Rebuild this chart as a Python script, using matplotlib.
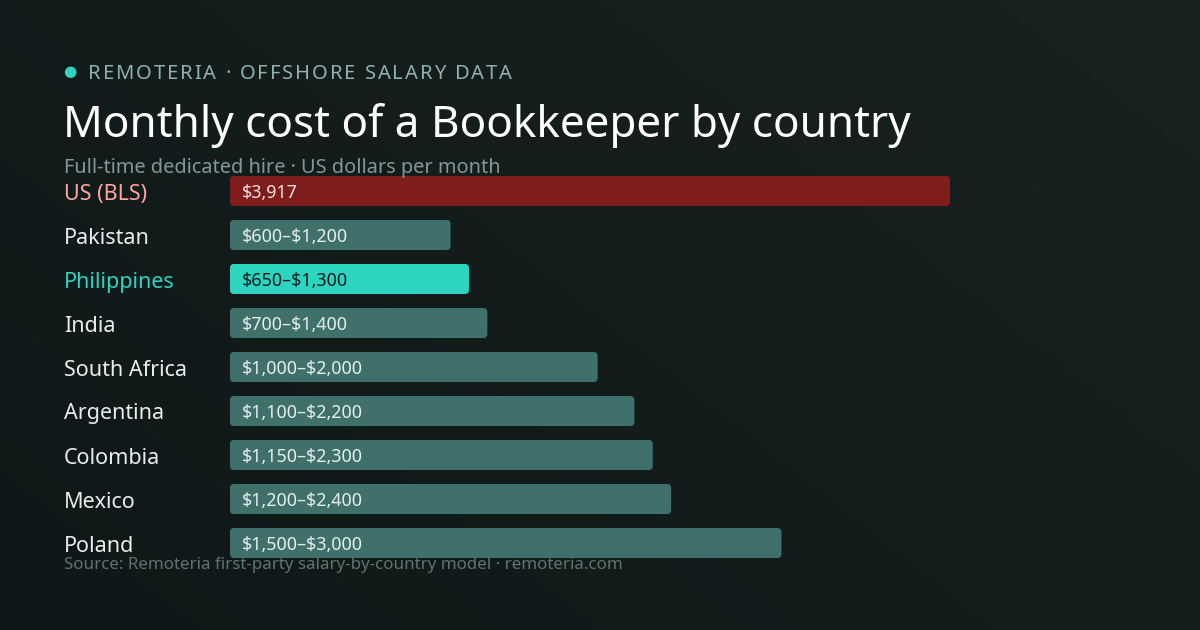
import matplotlib
matplotlib.use("Agg")
import matplotlib.pyplot as plt
import numpy as np
from matplotlib.patches import FancyBboxPatch

countries = ["US (BLS)", "Pakistan", "Philippines", "India", "South Africa",
             "Argentina", "Colombia", "Mexico", "Poland"]
low = [3917, 600, 650, 700, 1000, 1100, 1150, 1200, 1500]
high = [3917, 1200, 1300, 1400, 2000, 2200, 2300, 2400, 3000]
labels = ["$3,917", "$600–$1,200", "$650–$1,300", "$700–$1,400", "$1,000–$2,000",
          "$1,100–$2,200", "$1,150–$2,300", "$1,200–$2,400", "$1,500–$3,000"]

plt.rcParams['font.family'] = ['Noto Sans', 'DejaVu Sans']
plt.rcParams['text.parse_math'] = False
W, H = 1200, 630
fig = plt.figure(figsize=(12, 6.3), dpi=100)

bg = fig.add_axes([0, 0, 1, 1])
yy, xx = np.mgrid[0:1:200j, 0:1:200j]
g = (xx * 0.6 + (1 - yy) * 0.4)
c0 = np.array([0x0e, 0x18, 0x18]) / 255
c1 = np.array([0x1a, 0x22, 0x20]) / 255
img = c0[None, None, :] * (1 - g[..., None]) + c1[None, None, :] * g[..., None]
bg.imshow(img, extent=[0, 1, 0, 1], aspect='auto', origin='upper')
bg.axis('off')

def fy(py):
    return 1 - py / H

renderer = fig.canvas.get_renderer()
fig.text(70 / W, fy(72), "●", color="#2dd4bf", fontsize=11, va='center', ha='center')
xp = 88
for ch in "REMOTERIA · OFFSHORE SALARY DATA":
    t = fig.text(xp / W, fy(74), ch, color="#8fb3ad", fontsize=14.5, va='center', ha='left')
    if ch == " ":
        w = fig.text(0, 0, "a a", fontsize=14.5).get_window_extent(renderer).width - \
            2 * fig.text(0, 0, "a", fontsize=14.5).get_window_extent(renderer).width
        for tt in fig.texts[-2:]:
            tt.remove()
    else:
        w = t.get_window_extent(renderer).width
    xp += w + 1.9

fig.text(63 / W, fy(125), "Monthly cost of a Bookkeeper by country", color="white",
         fontsize=31.7, va='center', ha='left')
fig.text(64 / W, fy(168), "Full-time dedicated hire · US dollars per month", color="#7f9a96",
         fontsize=14.35, va='center', ha='left')
fig.text(64 / W, fy(565), "Source: Remoteria first-party salary-by-country model · remoteria.com",
         color="#5e7470", fontsize=12.2, va='center', ha='left')

x0, x1 = 230, 950
top, bot = 169, 565
ax = fig.add_axes([x0 / W, (H - bot) / H, (x1 - x0) / W, (bot - top) / H])
ax.set_xlim(0, high[0])
ax.set_ylim(len(countries) - 0.5, -0.5)
ax.axis('off')
ax.patch.set_alpha(0)

xpp = high[0] / (x1 - x0)
ypp = len(countries) / (bot - top)
bh = 30 * ypp
for i, (c, h, lab) in enumerate(zip(countries, high, labels)):
    if c == "US (BLS)":
        col, tcol, lcol = "#7f1d1d", "#f3dede", "#fca5a5"
    elif c == "Philippines":
        col, tcol, lcol = "#2dd4bf", "#0f1a1a", "#2dd4bf"
    else:
        col, tcol, lcol = "#3f706b", "#e6efee", "#e6efee"
    p = FancyBboxPatch((0, i - bh / 2), h, bh,
                       boxstyle=f"round,pad=0,rounding_size={4 * xpp}",
                       mutation_aspect=ypp / xpp, facecolor=col, edgecolor='none')
    ax.add_patch(p)
    ax.text(12 * xpp, i + 2 * ypp, lab, color=tcol, fontsize=12.9, va='center', ha='left')
    ax.text(-(x0 - 64) * xpp, i + 3 * ypp, c, color=lcol, fontsize=15.5, va='center',
            ha='left', clip_on=False)

fig.savefig("out.png", dpi=100)
